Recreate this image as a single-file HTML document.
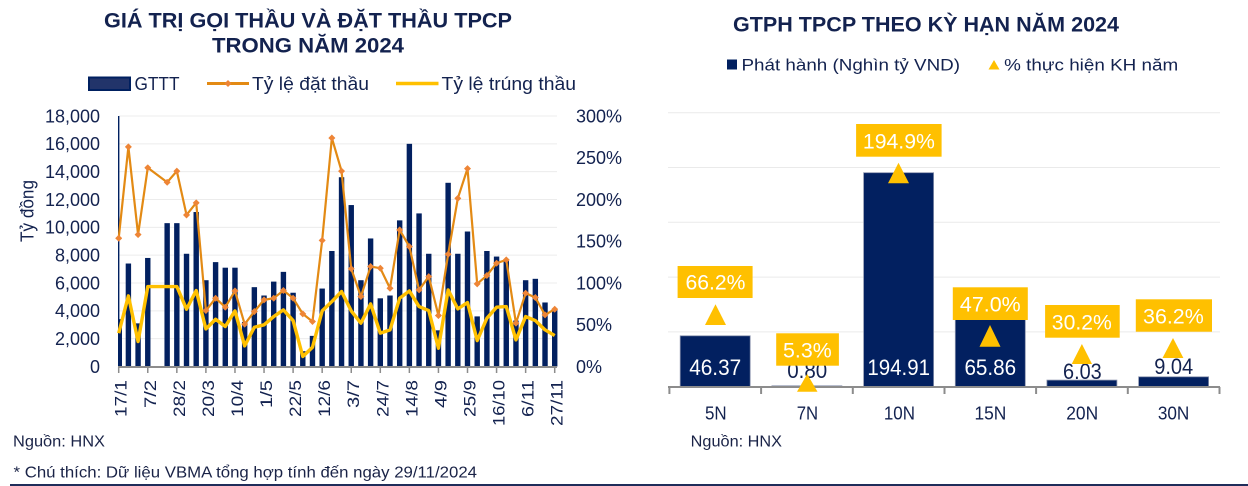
<!DOCTYPE html>
<html><head><meta charset="utf-8"><style>
html,body{margin:0;padding:0;background:#fff;}
svg{display:block;}
text{font-family:"Liberation Sans","DejaVu Sans",sans-serif;}
</style></head><body>
<svg width="1248" height="486" viewBox="0 0 1248 486" xmlns="http://www.w3.org/2000/svg">
<defs>
<marker id="dm" viewBox="-4 -4 8 8" refX="0" refY="0" markerWidth="7" markerHeight="7" markerUnits="userSpaceOnUse"><path d="M0,-4L4,0L0,4L-4,0z" fill="#EE8536"/></marker>
</defs>
<rect width="1248" height="486" fill="#fff"/>

<!-- LEFT TITLE -->
<g fill="#13224F" font-weight="bold" font-size="21.5">
<text x="104" y="27.5" textLength="408" lengthAdjust="spacingAndGlyphs">GIÁ TRỊ GỌI THẦU VÀ ĐẶT THẦU TPCP</text>
<text x="212" y="52.5" textLength="192" lengthAdjust="spacingAndGlyphs">TRONG NĂM 2024</text>
</g>

<!-- LEFT LEGEND -->
<rect x="89" y="77.5" width="41" height="12.5" fill="#22346A" stroke="#002060" stroke-width="2"/>
<g fill="#13224F" font-size="18">
<text x="134.5" y="90" textLength="45" lengthAdjust="spacingAndGlyphs">GTTT</text>
<text x="252" y="90" textLength="117" lengthAdjust="spacingAndGlyphs">Tỷ lệ đặt thầu</text>
<text x="441.5" y="90" textLength="134.5" lengthAdjust="spacingAndGlyphs">Tỷ lệ trúng thầu</text>
</g>
<line x1="207" y1="83.5" x2="249" y2="83.5" stroke="#E38A14" stroke-width="3"/>
<path d="M228,80L231.5,83.5L228,87L224.5,83.5z" fill="#EE8536"/>
<line x1="396" y1="83.5" x2="438.5" y2="83.5" stroke="#FFC000" stroke-width="3.5"/>

<!-- LEFT GRIDLINES -->
<g stroke="#ECECEC" stroke-width="1">
<line x1="119" y1="338.67" x2="557" y2="338.67"/>
<line x1="119" y1="310.83" x2="557" y2="310.83"/>
<line x1="119" y1="283" x2="557" y2="283"/>
<line x1="119" y1="255.17" x2="557" y2="255.17"/>
<line x1="119" y1="227.33" x2="557" y2="227.33"/>
<line x1="119" y1="199.5" x2="557" y2="199.5"/>
<line x1="119" y1="171.67" x2="557" y2="171.67"/>
<line x1="119" y1="143.83" x2="557" y2="143.83"/>
<line x1="119" y1="116" x2="557" y2="116"/>
</g>

<!-- LEFT Y LABELS -->
<g fill="#13224F" font-size="18" text-anchor="end">
<text x="100" y="372.9">0</text>
<text x="100" y="345.1">2,000</text>
<text x="100" y="317.2">4,000</text>
<text x="100" y="289.4">6,000</text>
<text x="100" y="261.6">8,000</text>
<text x="100" y="233.7">10,000</text>
<text x="100" y="205.9">12,000</text>
<text x="100" y="178.1">14,000</text>
<text x="100" y="150.2">16,000</text>
<text x="100" y="122.4">18,000</text>
</g>
<g fill="#13224F" font-size="18">
<text x="576" y="372.9">0%</text>
<text x="576" y="331.2">50%</text>
<text x="576" y="289.4">100%</text>
<text x="576" y="247.7">150%</text>
<text x="576" y="205.9">200%</text>
<text x="576" y="164.2">250%</text>
<text x="576" y="122.4">300%</text>
</g>
<text transform="rotate(-90 33.5 211)" x="33.5" y="211" fill="#13224F" font-size="18" text-anchor="middle" textLength="62" lengthAdjust="spacingAndGlyphs">Tỷ đồng</text>

<!-- LEFT BARS -->
<g fill="#022060">
<rect x="118.7" y="319.18" width="3.3" height="47.32"/>
<rect x="125.69" y="263.52" width="5.4" height="102.98"/>
<rect x="135.38" y="323.36" width="5.4" height="43.14"/>
<rect x="145.07" y="257.95" width="5.4" height="108.55"/>
<rect x="164.45" y="223.15" width="5.4" height="143.35"/>
<rect x="174.13" y="223.15" width="5.4" height="143.35"/>
<rect x="183.82" y="253.77" width="5.4" height="112.73"/>
<rect x="193.51" y="212.02" width="5.4" height="154.48"/>
<rect x="203.20" y="280.21" width="5.4" height="86.29"/>
<rect x="212.89" y="262.12" width="5.4" height="104.38"/>
<rect x="222.58" y="267.69" width="5.4" height="98.81"/>
<rect x="232.27" y="267.69" width="5.4" height="98.81"/>
<rect x="241.96" y="321.97" width="5.4" height="44.53"/>
<rect x="251.65" y="287.17" width="5.4" height="79.33"/>
<rect x="261.34" y="295.52" width="5.4" height="70.98"/>
<rect x="271.02" y="281.61" width="5.4" height="84.89"/>
<rect x="280.71" y="271.86" width="5.4" height="94.64"/>
<rect x="290.40" y="292.74" width="5.4" height="73.76"/>
<rect x="300.09" y="351.19" width="5.4" height="15.31"/>
<rect x="309.78" y="335.88" width="5.4" height="30.62"/>
<rect x="319.47" y="288.56" width="5.4" height="77.94"/>
<rect x="329.16" y="250.99" width="5.4" height="115.51"/>
<rect x="338.85" y="177.23" width="5.4" height="189.27"/>
<rect x="348.54" y="205.06" width="5.4" height="161.44"/>
<rect x="358.23" y="280.21" width="5.4" height="86.29"/>
<rect x="367.91" y="238.46" width="5.4" height="128.04"/>
<rect x="377.60" y="298.31" width="5.4" height="68.19"/>
<rect x="387.29" y="295.52" width="5.4" height="70.98"/>
<rect x="396.98" y="220.37" width="5.4" height="146.13"/>
<rect x="406.67" y="143.83" width="5.4" height="222.67"/>
<rect x="416.36" y="213.41" width="5.4" height="153.09"/>
<rect x="426.05" y="253.77" width="5.4" height="112.73"/>
<rect x="435.74" y="330.32" width="5.4" height="36.18"/>
<rect x="445.43" y="182.80" width="5.4" height="183.70"/>
<rect x="455.12" y="253.77" width="5.4" height="112.73"/>
<rect x="464.80" y="231.51" width="5.4" height="134.99"/>
<rect x="474.49" y="316.40" width="5.4" height="50.10"/>
<rect x="484.18" y="250.99" width="5.4" height="115.51"/>
<rect x="493.87" y="256.56" width="5.4" height="109.94"/>
<rect x="503.56" y="260.73" width="5.4" height="105.77"/>
<rect x="513.25" y="320.57" width="5.4" height="45.93"/>
<rect x="522.94" y="280.21" width="5.4" height="86.29"/>
<rect x="532.63" y="278.82" width="5.4" height="87.68"/>
<rect x="542.32" y="302.48" width="5.4" height="64.02"/>
<rect x="552.01" y="309.44" width="5.4" height="57.06"/>
</g>

<!-- LEFT AXES -->
<line x1="118.7" y1="116" x2="118.7" y2="367" stroke="#002060" stroke-width="1.4"/>
<line x1="118" y1="367" x2="557" y2="367" stroke="#8C8C8C" stroke-width="2"/>
<g stroke="#8C8C8C" stroke-width="1.5">
<line x1="118.7" y1="367" x2="118.7" y2="373"/>
<line x1="147.77" y1="367" x2="147.77" y2="373"/>
<line x1="176.83" y1="367" x2="176.83" y2="373"/>
<line x1="205.90" y1="367" x2="205.90" y2="373"/>
<line x1="234.97" y1="367" x2="234.97" y2="373"/>
<line x1="264.04" y1="367" x2="264.04" y2="373"/>
<line x1="293.10" y1="367" x2="293.10" y2="373"/>
<line x1="322.17" y1="367" x2="322.17" y2="373"/>
<line x1="351.24" y1="367" x2="351.24" y2="373"/>
<line x1="380.30" y1="367" x2="380.30" y2="373"/>
<line x1="409.37" y1="367" x2="409.37" y2="373"/>
<line x1="438.44" y1="367" x2="438.44" y2="373"/>
<line x1="467.50" y1="367" x2="467.50" y2="373"/>
<line x1="496.57" y1="367" x2="496.57" y2="373"/>
<line x1="525.64" y1="367" x2="525.64" y2="373"/>
<line x1="554.71" y1="367" x2="554.71" y2="373"/>
</g>

<!-- LEFT LINES -->
<polyline fill="none" stroke="#FFC000" stroke-width="3.4" stroke-linejoin="round" points="118.7,333.18 128.39,295.86 138.08,341.53 147.77,286.59 167.15,286.59 176.83,286.59 186.52,309.22 196.21,290.51 205.90,328.92 215.59,319.24 225.28,326.50 234.97,310.89 244.66,345.88 254.35,327.25 264.04,324.83 273.72,316.57 283.41,309.89 293.10,320.57 302.79,356.48 312.48,347.29 322.17,310.89 331.86,301.54 341.55,291.52 351.24,310.89 360.93,323.16 370.61,303.87 380.30,333.18 389.99,329.84 399.68,298.20 409.37,290.93 419.06,306.55 428.75,310.55 438.44,348.21 448.13,289.93 457.82,308.88 467.50,302.54 477.19,340.61 486.88,318.24 496.57,307.21 506.26,306.55 515.95,339.86 525.64,316.57 535.33,320.57 545.02,329.84 554.71,335.60"/>
<polyline fill="none" stroke="#E38A14" stroke-width="2.2" stroke-linejoin="round" marker-start="url(#dm)" marker-mid="url(#dm)" marker-end="url(#dm)" points="118.7,238.24 128.39,146.89 138.08,234.57 147.77,167.77 167.15,182.30 176.83,171.11 186.52,214.95 196.21,202.84 205.90,310.55 215.59,298.20 225.28,307.21 234.97,290.93 244.66,324.17 254.35,311.56 264.04,299.87 273.72,298.20 283.41,290.51 293.10,298.20 302.79,313.89 312.48,321.49 322.17,240.41 331.86,137.96 341.55,171.11 351.24,268.80 360.93,296.53 370.61,266.55 380.30,268.22 389.99,288.26 399.68,229.89 409.37,246.59 419.06,289.93 428.75,276.57 438.44,315.56 448.13,254.28 457.82,198.33 467.50,168.60 477.19,283.83 486.88,275.48 496.57,263.21 506.26,259.87 515.95,323.16 525.64,293.19 535.33,297.53 545.02,314.90 554.71,309.22"/>

<!-- LEFT X LABELS -->
<g fill="#13224F" font-size="17" text-anchor="end" lengthAdjust="spacingAndGlyphs">
<text transform="rotate(-90 126.7 380)" x="126.7" y="380" textLength="37" lengthAdjust="spacingAndGlyphs">17/1</text>
<text transform="rotate(-90 155.77 380)" x="155.77" y="380" textLength="28" lengthAdjust="spacingAndGlyphs">7/2</text>
<text transform="rotate(-90 184.83 380)" x="184.83" y="380" textLength="37" lengthAdjust="spacingAndGlyphs">28/2</text>
<text transform="rotate(-90 213.9 380)" x="213.9" y="380" textLength="37" lengthAdjust="spacingAndGlyphs">20/3</text>
<text transform="rotate(-90 242.97 380)" x="242.97" y="380" textLength="37" lengthAdjust="spacingAndGlyphs">10/4</text>
<text transform="rotate(-90 272.04 380)" x="272.04" y="380" textLength="28" lengthAdjust="spacingAndGlyphs">1/5</text>
<text transform="rotate(-90 301.1 380)" x="301.1" y="380" textLength="37" lengthAdjust="spacingAndGlyphs">22/5</text>
<text transform="rotate(-90 330.17 380)" x="330.17" y="380" textLength="37" lengthAdjust="spacingAndGlyphs">12/6</text>
<text transform="rotate(-90 359.24 380)" x="359.24" y="380" textLength="28" lengthAdjust="spacingAndGlyphs">3/7</text>
<text transform="rotate(-90 388.3 380)" x="388.3" y="380" textLength="37" lengthAdjust="spacingAndGlyphs">24/7</text>
<text transform="rotate(-90 417.37 380)" x="417.37" y="380" textLength="37" lengthAdjust="spacingAndGlyphs">14/8</text>
<text transform="rotate(-90 446.44 380)" x="446.44" y="380" textLength="28" lengthAdjust="spacingAndGlyphs">4/9</text>
<text transform="rotate(-90 475.5 380)" x="475.5" y="380" textLength="37" lengthAdjust="spacingAndGlyphs">25/9</text>
<text transform="rotate(-90 504.57 380)" x="504.57" y="380" textLength="46" lengthAdjust="spacingAndGlyphs">16/10</text>
<text transform="rotate(-90 533.64 380)" x="533.64" y="380" textLength="37" lengthAdjust="spacingAndGlyphs">6/11</text>
<text transform="rotate(-90 562.71 380)" x="562.71" y="380" textLength="46" lengthAdjust="spacingAndGlyphs">27/11</text>
</g>

<!-- LEFT FOOTNOTES -->
<g fill="#1A2347" font-size="16">
<text x="13" y="446.5" textLength="92" lengthAdjust="spacingAndGlyphs">Nguồn: HNX</text>
<text x="13.5" y="477.5" textLength="463.5" lengthAdjust="spacingAndGlyphs">* Chú thích: Dữ liệu VBMA tổng hợp tính đến ngày 29/11/2024</text>
</g>

<!-- RIGHT TITLE -->
<text x="733" y="31.5" fill="#13224F" font-weight="bold" font-size="21.5" textLength="386" lengthAdjust="spacingAndGlyphs">GTPH TPCP THEO KỲ HẠN NĂM 2024</text>

<!-- RIGHT LEGEND -->
<rect x="727" y="59.5" width="10" height="10" fill="#022060"/>
<text x="741.5" y="70.5" fill="#13224F" font-size="17" textLength="218.5" lengthAdjust="spacingAndGlyphs">Phát hành (Nghìn tỷ VND)</text>
<polygon points="994,60 988.5,69.5 999.5,69.5" fill="#FFC000"/>
<text x="1004.2" y="70.5" fill="#13224F" font-size="17" textLength="174" lengthAdjust="spacingAndGlyphs">% thực hiện KH năm</text>

<!-- RIGHT GRIDLINES -->
<g stroke="#EAEAEA" stroke-width="1">
<line x1="668" y1="112.7" x2="1220" y2="112.7"/>
<line x1="668" y1="167.5" x2="1220" y2="167.5"/>
<line x1="668" y1="222.3" x2="1220" y2="222.3"/>
<line x1="668" y1="277.1" x2="1220" y2="277.1"/>
<line x1="668" y1="331.9" x2="1220" y2="331.9"/>
</g>

<!-- RIGHT BARS -->
<g fill="#022060" stroke="#8A93AD" stroke-width="0.8">
<rect x="680.2" y="335.8" width="70" height="50.9"/>
<rect x="771.9" y="385.8" width="70" height="0.9"/>
<rect x="863.6" y="172.7" width="70" height="214"/>
<rect x="955.3" y="314.4" width="70" height="72.3"/>
<rect x="1046.9" y="380.1" width="70" height="6.6"/>
<rect x="1138.6" y="376.8" width="70" height="9.9"/>
</g>

<!-- RIGHT AXIS -->
<line x1="668" y1="387" x2="1220" y2="387" stroke="#8C8C8C" stroke-width="2"/>
<g stroke="#8C8C8C" stroke-width="2">
<line x1="669.4" y1="387" x2="669.4" y2="394"/>
<line x1="761.1" y1="387" x2="761.1" y2="394"/>
<line x1="852.8" y1="387" x2="852.8" y2="394"/>
<line x1="944.5" y1="387" x2="944.5" y2="394"/>
<line x1="1036.1" y1="387" x2="1036.1" y2="394"/>
<line x1="1127.8" y1="387" x2="1127.8" y2="394"/>
<line x1="1219.5" y1="387" x2="1219.5" y2="394"/>
</g>

<!-- RIGHT DATA LABELS -->
<g font-size="22" text-anchor="middle">
<text x="715.2" y="375" fill="#fff" textLength="52" lengthAdjust="spacingAndGlyphs">46.37</text>
<text x="807.2" y="378" fill="#13224F" textLength="40" lengthAdjust="spacingAndGlyphs">0.80</text>
<text x="898.7" y="375" fill="#fff" textLength="62.6" lengthAdjust="spacingAndGlyphs">194.91</text>
<text x="990.3" y="375" fill="#fff" textLength="51.7" lengthAdjust="spacingAndGlyphs">65.86</text>
<text x="1082.4" y="379" fill="#13224F" textLength="38.7" lengthAdjust="spacingAndGlyphs">6.03</text>
<text x="1173.7" y="374" fill="#13224F" textLength="39" lengthAdjust="spacingAndGlyphs">9.04</text>
</g>

<!-- RIGHT % BOXES -->
<g fill="#FFC000">
<rect x="677.6" y="266" width="75" height="32"/>
<rect x="776.2" y="333.3" width="62.7" height="32.4"/>
<rect x="856.1" y="124" width="85.5" height="32.7"/>
<rect x="952.8" y="287.3" width="75" height="32.7"/>
<rect x="1045.1" y="305" width="74.6" height="32.7"/>
<rect x="1135.8" y="299.3" width="76.2" height="32.4"/>
</g>
<g font-size="21" fill="#fff" text-anchor="middle">
<text x="715.5" y="289.5" textLength="60" lengthAdjust="spacingAndGlyphs">66.2%</text>
<text x="807.4" y="357.3" textLength="48.7" lengthAdjust="spacingAndGlyphs">5.3%</text>
<text x="898.9" y="148.7" textLength="72" lengthAdjust="spacingAndGlyphs">194.9%</text>
<text x="990.3" y="311.7" textLength="60.7" lengthAdjust="spacingAndGlyphs">47.0%</text>
<text x="1081.8" y="329.3" textLength="60" lengthAdjust="spacingAndGlyphs">30.2%</text>
<text x="1173.4" y="323.3" textLength="60.7" lengthAdjust="spacingAndGlyphs">36.2%</text>
</g>

<!-- RIGHT TRIANGLES -->
<g fill="#FFC000">
<polygon points="715.5,304.3 705,325 726,325"/>
<polygon points="807.2,374 797,391.7 817.5,391.7"/>
<polygon points="898.5,162.7 888,183.3 909,183.3"/>
<polygon points="990,325 979.5,346.7 1000.5,346.7"/>
<polygon points="1081.9,344 1071.7,364 1092,364"/>
<polygon points="1173,338 1162.5,358 1183.4,358"/>
</g>

<!-- RIGHT CATEGORY LABELS -->
<g fill="#13224F" font-size="18" text-anchor="middle">
<text x="715.8" y="419.3" textLength="21.7" lengthAdjust="spacingAndGlyphs">5N</text>
<text x="807.4" y="419.3" textLength="21.4" lengthAdjust="spacingAndGlyphs">7N</text>
<text x="899.4" y="419.3" textLength="31.1" lengthAdjust="spacingAndGlyphs">10N</text>
<text x="990.4" y="419.3" textLength="31.9" lengthAdjust="spacingAndGlyphs">15N</text>
<text x="1082.2" y="419.3" textLength="31.9" lengthAdjust="spacingAndGlyphs">20N</text>
<text x="1173.6" y="419.3" textLength="31.5" lengthAdjust="spacingAndGlyphs">30N</text>
</g>
<text x="690.7" y="446.5" fill="#1A2347" font-size="16" textLength="91.3" lengthAdjust="spacingAndGlyphs">Nguồn: HNX</text>

<!-- BOTTOM RULE -->
<rect x="10" y="484" width="1238" height="2" fill="#1F2D5A"/>
</svg>
</body></html>
